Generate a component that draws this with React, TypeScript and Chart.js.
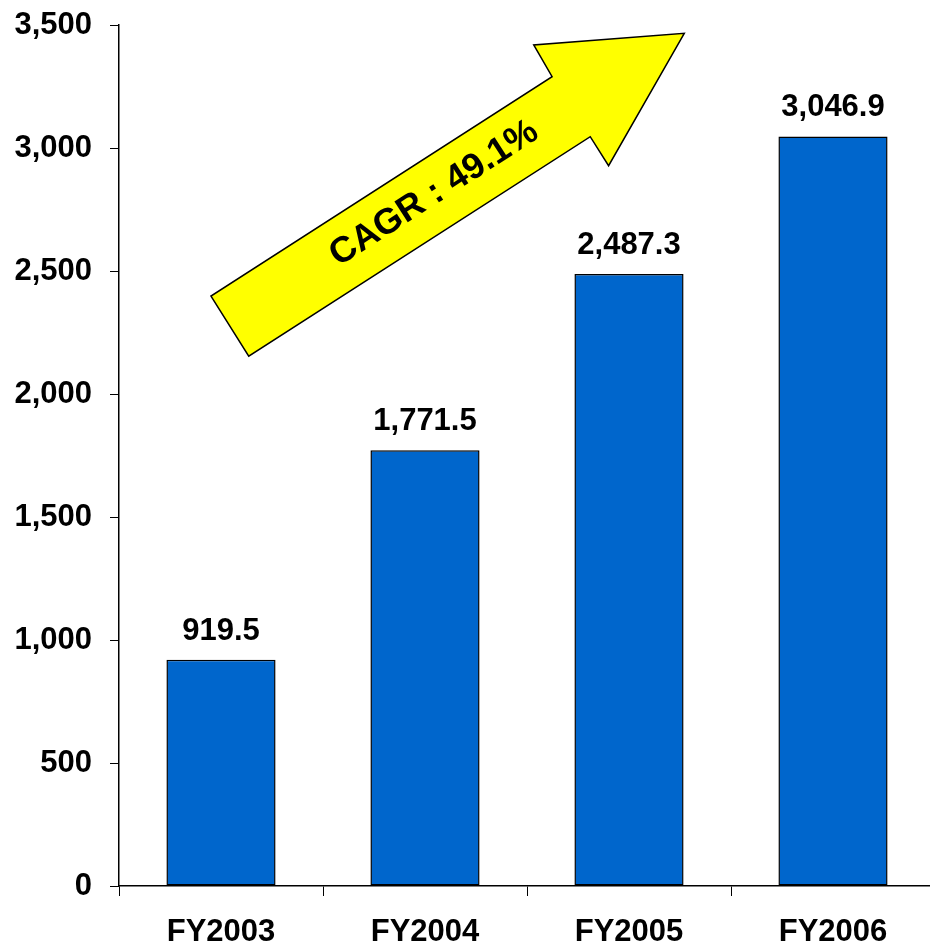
import React, { useEffect, useRef } from "react";
import { Chart, registerables } from "chart.js";

Chart.register(...registerables);

const categories = ["FY2003", "FY2004", "FY2005", "FY2006"];
const values = [919.5, 1771.5, 2487.3, 3046.9];
const yTicks = [0, 500, 1000, 1500, 2000, 2500, 3000, 3500];
const arrowLabel = "CAGR : 49.1%";
// arrow outline in data space: [category index, value]
const arrowShape: [number, number][] = [
  [-0.049, 2398],
  [0.136, 2154],
  [1.81, 3046],
  [1.9, 2928],
  [2.271, 3466],
  [1.533, 3419],
  [1.623, 3290],
];

const FONT = "'Liberation Sans', Arial, sans-serif";

const fmt = (v: number, d: number) =>
  v.toLocaleString("en-US", { minimumFractionDigits: d, maximumFractionDigits: d });

export default function App() {
  const ref = useRef<HTMLCanvasElement | null>(null);
  useEffect(() => {
    document.body.style.margin = "0";
    const canvas = ref.current!;
    const labelsPlugin = {
      id: "barLabels",
      afterDatasetsDraw(chart: any) {
        const ctx = chart.ctx;
        const meta = chart.getDatasetMeta(0);
        ctx.save();
        ctx.font = `bold 31px ${FONT}`;
        ctx.fillStyle = "#000";
        ctx.textAlign = "center";
        ctx.textBaseline = "alphabetic";
        meta.data.forEach((bar: any, i: number) => {
          ctx.fillText(fmt(values[i], 1), bar.x, bar.y - 20);
        });
        ctx.restore();
      },
    };
    const arrowPlugin = {
      id: "cagrArrow",
      afterDraw(chart: any) {
        const ctx = chart.ctx;
        const xs = chart.scales.x;
        const ys = chart.scales.y;
        const pts = arrowShape.map(([cx, v]) => {
          const x0 = xs.getPixelForValue(0);
          const x1 = xs.getPixelForValue(1);
          return [x0 + (x1 - x0) * cx, ys.getPixelForValue(v)];
        });
        ctx.save();
        ctx.beginPath();
        pts.forEach(([x, y], i) => (i === 0 ? ctx.moveTo(x, y) : ctx.lineTo(x, y)));
        ctx.closePath();
        ctx.fillStyle = "#FFFF00";
        ctx.fill();
        ctx.lineWidth = 1.5;
        ctx.strokeStyle = "#000";
        ctx.stroke();
        const a = [(pts[0][0] + pts[1][0]) / 2, (pts[0][1] + pts[1][1]) / 2];
        const b = [(pts[2][0] + pts[6][0]) / 2, (pts[2][1] + pts[6][1]) / 2];
        const t = 0.6;
        const cx = a[0] + (b[0] - a[0]) * t;
        const cy = a[1] + (b[1] - a[1]) * t;
        const ang = Math.atan2(b[1] - a[1], b[0] - a[0]);
        ctx.translate(cx, cy);
        ctx.rotate(ang);
        ctx.font = `bold 36px ${FONT}`;
        ctx.fillStyle = "#000";
        ctx.textAlign = "center";
        ctx.textBaseline = "middle";
        ctx.fillText(arrowLabel, 0, -1);
        ctx.restore();
      },
    };
    const chart = new Chart(canvas, {
      type: "bar",
      data: {
        labels: categories,
        datasets: [
          {
            data: values,
            backgroundColor: "#0066CC",
            borderColor: "#000",
            borderWidth: 1.5,
            borderSkipped: false,
            barPercentage: 0.535,
            categoryPercentage: 1,
          },
        ],
      },
      options: {
        responsive: false,
        animation: false,
        devicePixelRatio: 1,
        layout: { padding: { top: 25, right: 5, left: 0, bottom: 0 } },
        plugins: { legend: { display: false }, tooltip: { enabled: false } },
        scales: {
          x: {
            grid: {
              display: true,
              drawOnChartArea: false,
              drawTicks: true,
              tickLength: 10,
              color: "#000",
              offset: true,
            },
            border: { display: true, color: "#000", width: 1.5 },
            ticks: {
              color: "#000",
              font: { family: FONT, size: 31, weight: "bold" },
              padding: 18,
              maxRotation: 0,
            },
            afterFit: (s: any) => {
              s.height = 59;
              s.paddingLeft = 0;
              s.paddingRight = 0;
            },
          },
          y: {
            min: 0,
            max: 3500,
            afterBuildTicks: (s: any) => {
              s.ticks = yTicks.map((v) => ({ value: v }));
            },
            grid: {
              display: true,
              drawOnChartArea: false,
              drawTicks: true,
              tickLength: 9,
              color: "#000",
            },
            border: { display: true, color: "#000", width: 1.5 },
            ticks: {
              color: "#000",
              font: { family: FONT, size: 31, weight: "bold" },
              padding: 18,
              callback: (v: any) => fmt(Number(v), 0),
            },
            afterFit: (s: any) => {
              s.width = 119;
              s.paddingTop = 0;
              s.paddingBottom = 0;
            },
          },
        },
      },
      plugins: [labelsPlugin, arrowPlugin],
    });
    return () => chart.destroy();
  }, []);
  return (
    <div style={{ width: 930, height: 945, overflow: "hidden", background: "#fff" }}>
      <canvas ref={ref} width={940} height={945} style={{ display: "block" }} />
    </div>
  );
}
